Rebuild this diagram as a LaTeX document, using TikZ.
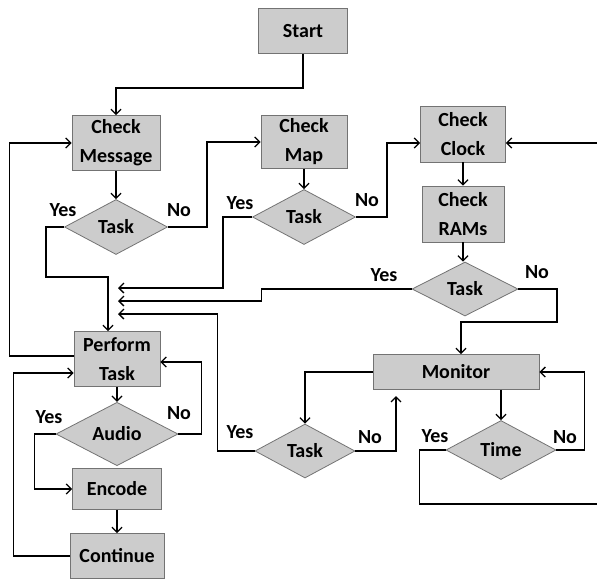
\documentclass[tikz,border=0pt]{standalone}
\usepackage{fontspec}
\setmainfont{Carlito}
\usetikzlibrary{shapes.geometric,arrows.meta}

\begin{document}
\begin{tikzpicture}[x=1pt,y=-1pt,
  blk/.style={draw=black!55,fill=black!20,line width=0.8pt,align=center,inner sep=0pt},
  dia/.style={diamond,draw=black!55,fill=black!20,line width=0.8pt,inner sep=0pt},
  arr/.style={-{Straight Barb[length=5pt,width=10pt]},line width=1.3pt},
  ln/.style={line width=1.3pt},
  lbl/.style={inner sep=0pt}]
\useasboundingbox (0,0) rectangle (597,579);
\fontsize{20}{29}\selectfont\bfseries

\node[blk,minimum width=89,minimum height=45] (start) at (303,31) {Start};
\node[blk,minimum width=88,minimum height=55] (chkmsg) at (116,143) {Check\\Message};
\node[dia,minimum width=103,minimum height=55] (tsk1) at (116,227) {Task};
\node[blk,minimum width=86,minimum height=53] (chkmap) at (304,142) {Check\\Map};
\node[dia,minimum width=103,minimum height=55] (tsk2) at (304,217) {Task};
\node[blk,minimum width=85,minimum height=56] (chkclk) at (463,134) {Check\\Clock};
\node[blk,minimum width=82,minimum height=56] (chkram) at (463,214) {Check\\RAMs};
\node[dia,minimum width=106,minimum height=54] (tsk3) at (465,289) {Task};
\node[blk,minimum width=166,minimum height=35] (monitor) at (456,372) {Monitor};
\node[dia,minimum width=100,minimum height=54] (tsk4) at (305,451) {Task};
\node[dia,minimum width=110,minimum height=59] (time) at (501,450) {Time};
\node[blk,minimum width=86,minimum height=55] (perf) at (117,359) {Perform\\Task};
\node[dia,minimum width=122,minimum height=54] (audio) at (117,434) {Audio};
\node[blk,minimum width=89,minimum height=41] (encode) at (117,489) {Encode};
\node[blk,minimum width=94,minimum height=45] (cont) at (117,556) {Continue};

\node[lbl] (y1) at (63,210) {Yes};
\node[lbl] (n1) at (179,210) {No};
\node[lbl] (y2) at (240,203) {Yes};
\node[lbl] (n2) at (367,200) {No};
\node[lbl] (y3) at (384,275) {Yes};
\node[lbl] (n3) at (537,272) {No};
\node[lbl] (y4) at (240,432) {Yes};
\node[lbl] (n4) at (370,437) {No};
\node[lbl] (y5) at (435,436) {Yes};
\node[lbl] (n5) at (565,437) {No};
\node[lbl] (y6) at (49,417) {Yes};
\node[lbl] (n6) at (179,413) {No};

\coordinate (b1) at (303,88);
\coordinate (b2) at (46,277);
\coordinate (b3) at (557,322);
\coordinate (m1) at (118,288);
\coordinate (m2) at (118,301);
\coordinate (m3) at (118,314);
\coordinate (m4) at (396,396);
\coordinate (e1) at (597,504);
\coordinate (e2) at (597,143);

\draw[arr] (start.south) -- (b1) -| (chkmsg.north);
\draw[arr] (chkmsg) -- (tsk1);
\draw[arr] (tsk1.east) -- ++(39,0) |- (chkmap.west);
\draw[arr] (tsk1.west) -| (b2) -| ([xshift=-9pt]perf.north);
\draw[arr] (chkmap) -- (tsk2);
\draw[arr] (tsk2.east) -- ++(31,0) |- (e2 -| chkclk.west);
\draw[arr] (tsk2.west) -- ++(-29,0) |- (m1);
\draw[arr] (e2) -- (e2 -| chkclk.east);
\draw[arr] (chkclk) -- (chkram);
\draw[arr] (chkram.south) -- (chkram.south |- tsk3.north);
\draw[arr] (tsk3.west) -- ++(-150,0) |- (m2);
\draw[arr] (tsk3.east) -| (b3) -| ([xshift=5pt]monitor.north);
\draw[arr] (monitor.west) -| (tsk4.north);
\draw[arr] (tsk4.east) -| (m4);
\draw[arr] (tsk4.west) -- ++(-37,0) |- (m3);
\draw[arr] ([xshift=45pt]monitor.south) -- (time.north);
\draw[arr] (time.east) -- ++(28,0) |- (monitor.east);
\draw[ln] (time.west) -- ++(-26,0) |- (e1);
\draw[arr] ([yshift=3pt]perf.west) -- ++(-64,0) |- (chkmsg.west);
\draw[arr] (perf) -- (audio);
\draw[arr] (audio.east) -- ++(23,0) |- ([yshift=-3pt]perf.east);
\draw[arr] (audio.west) -- ++(-21,0) |- (encode.west);
\draw[arr] (encode) -- (cont);
\draw[arr] (cont.west) -- ++(-56,0) |- ([yshift=-14pt]perf.west);
\end{tikzpicture}
\end{document}
